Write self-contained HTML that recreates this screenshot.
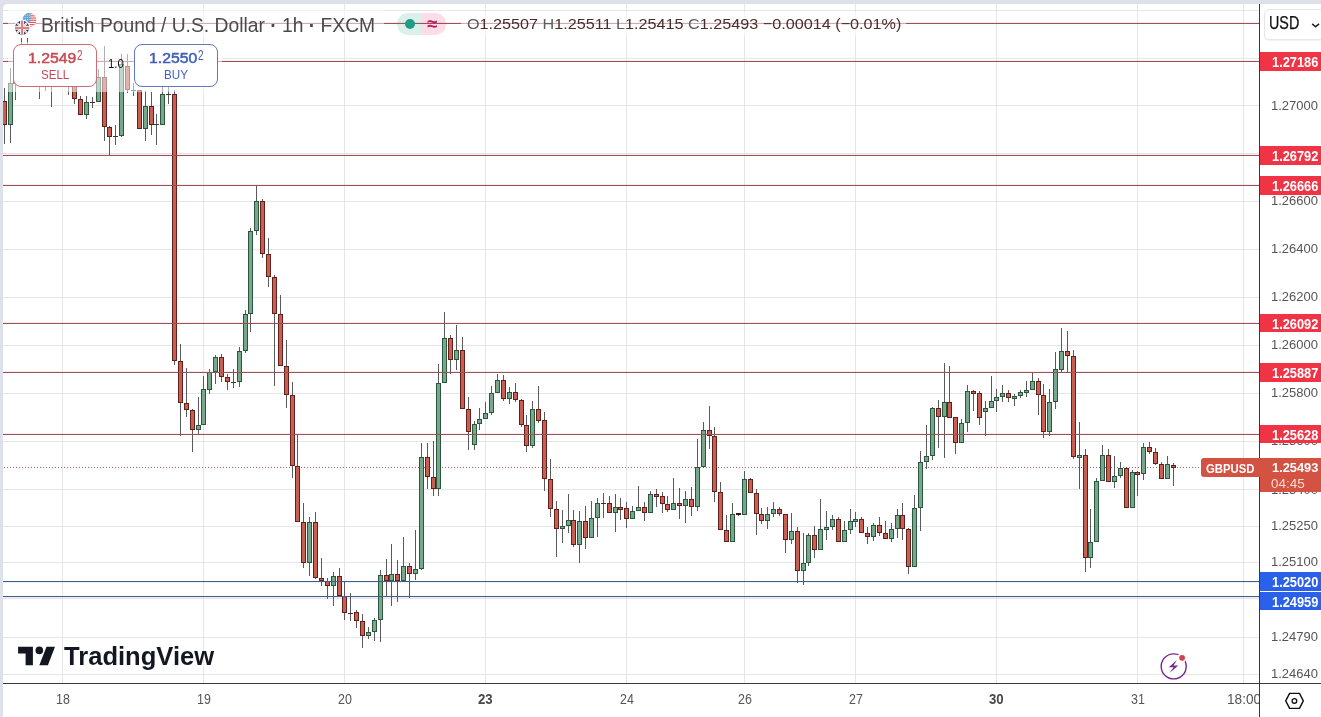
<!DOCTYPE html>
<html lang="en"><head><meta charset="utf-8"><title>GBPUSD chart</title>
<style>
html,body{margin:0;padding:0;}
body{width:1321px;height:717px;overflow:hidden;background:#dfe1ea;font-family:"Liberation Sans",sans-serif;position:relative;}
#page{position:absolute;left:3px;top:4px;width:1318px;height:713px;background:#fff;border-top-left-radius:4px;}
.chart{position:absolute;left:0;top:0;}
.abs{position:absolute;white-space:nowrap;}
.tag{position:absolute;left:1260px;width:61px;height:18.6px;}
.btn{position:absolute;top:44px;height:43px;width:84px;box-sizing:border-box;border-radius:8px;background:#fff;}
</style></head><body>
<div id="page"></div>

<svg class="chart" width="1321" height="717" viewBox="0 0 1321 717" shape-rendering="crispEdges">
<g fill="#e6e6e9">
<rect x="3" y="10" width="1256" height="1"/>
<rect x="3" y="58" width="1256" height="1"/>
<rect x="3" y="105" width="1256" height="1"/>
<rect x="3" y="153" width="1256" height="1"/>
<rect x="3" y="201" width="1256" height="1"/>
<rect x="3" y="249" width="1256" height="1"/>
<rect x="3" y="297" width="1256" height="1"/>
<rect x="3" y="345" width="1256" height="1"/>
<rect x="3" y="393" width="1256" height="1"/>
<rect x="3" y="441" width="1256" height="1"/>
<rect x="3" y="489" width="1256" height="1"/>
<rect x="3" y="526" width="1256" height="1"/>
<rect x="3" y="562" width="1256" height="1"/>
<rect x="3" y="598" width="1256" height="1"/>
<rect x="3" y="637" width="1256" height="1"/>
<rect x="3" y="674" width="1256" height="1"/>
<rect x="62" y="4" width="1" height="679"/>
<rect x="203" y="4" width="1" height="679"/>
<rect x="344" y="4" width="1" height="679"/>
<rect x="485" y="4" width="1" height="679"/>
<rect x="626" y="4" width="1" height="679"/>
<rect x="744" y="4" width="1" height="679"/>
<rect x="855" y="4" width="1" height="679"/>
<rect x="996" y="4" width="1" height="679"/>
<rect x="1137" y="4" width="1" height="679"/>
<rect x="1243" y="4" width="1" height="679"/>
</g>
<g fill="#a8665c">
<rect x="4" y="467" width="1" height="1"/>
<rect x="7" y="467" width="1" height="1"/>
<rect x="10" y="467" width="1" height="1"/>
<rect x="13" y="467" width="1" height="1"/>
<rect x="16" y="467" width="1" height="1"/>
<rect x="19" y="467" width="1" height="1"/>
<rect x="22" y="467" width="1" height="1"/>
<rect x="25" y="467" width="1" height="1"/>
<rect x="28" y="467" width="1" height="1"/>
<rect x="31" y="467" width="1" height="1"/>
<rect x="34" y="467" width="1" height="1"/>
<rect x="37" y="467" width="1" height="1"/>
<rect x="40" y="467" width="1" height="1"/>
<rect x="43" y="467" width="1" height="1"/>
<rect x="46" y="467" width="1" height="1"/>
<rect x="49" y="467" width="1" height="1"/>
<rect x="52" y="467" width="1" height="1"/>
<rect x="55" y="467" width="1" height="1"/>
<rect x="58" y="467" width="1" height="1"/>
<rect x="61" y="467" width="1" height="1"/>
<rect x="64" y="467" width="1" height="1"/>
<rect x="67" y="467" width="1" height="1"/>
<rect x="70" y="467" width="1" height="1"/>
<rect x="73" y="467" width="1" height="1"/>
<rect x="76" y="467" width="1" height="1"/>
<rect x="79" y="467" width="1" height="1"/>
<rect x="82" y="467" width="1" height="1"/>
<rect x="85" y="467" width="1" height="1"/>
<rect x="88" y="467" width="1" height="1"/>
<rect x="91" y="467" width="1" height="1"/>
<rect x="94" y="467" width="1" height="1"/>
<rect x="97" y="467" width="1" height="1"/>
<rect x="100" y="467" width="1" height="1"/>
<rect x="103" y="467" width="1" height="1"/>
<rect x="106" y="467" width="1" height="1"/>
<rect x="109" y="467" width="1" height="1"/>
<rect x="112" y="467" width="1" height="1"/>
<rect x="115" y="467" width="1" height="1"/>
<rect x="118" y="467" width="1" height="1"/>
<rect x="121" y="467" width="1" height="1"/>
<rect x="124" y="467" width="1" height="1"/>
<rect x="127" y="467" width="1" height="1"/>
<rect x="130" y="467" width="1" height="1"/>
<rect x="133" y="467" width="1" height="1"/>
<rect x="136" y="467" width="1" height="1"/>
<rect x="139" y="467" width="1" height="1"/>
<rect x="142" y="467" width="1" height="1"/>
<rect x="145" y="467" width="1" height="1"/>
<rect x="148" y="467" width="1" height="1"/>
<rect x="151" y="467" width="1" height="1"/>
<rect x="154" y="467" width="1" height="1"/>
<rect x="157" y="467" width="1" height="1"/>
<rect x="160" y="467" width="1" height="1"/>
<rect x="163" y="467" width="1" height="1"/>
<rect x="166" y="467" width="1" height="1"/>
<rect x="169" y="467" width="1" height="1"/>
<rect x="172" y="467" width="1" height="1"/>
<rect x="175" y="467" width="1" height="1"/>
<rect x="178" y="467" width="1" height="1"/>
<rect x="181" y="467" width="1" height="1"/>
<rect x="184" y="467" width="1" height="1"/>
<rect x="187" y="467" width="1" height="1"/>
<rect x="190" y="467" width="1" height="1"/>
<rect x="193" y="467" width="1" height="1"/>
<rect x="196" y="467" width="1" height="1"/>
<rect x="199" y="467" width="1" height="1"/>
<rect x="202" y="467" width="1" height="1"/>
<rect x="205" y="467" width="1" height="1"/>
<rect x="208" y="467" width="1" height="1"/>
<rect x="211" y="467" width="1" height="1"/>
<rect x="214" y="467" width="1" height="1"/>
<rect x="217" y="467" width="1" height="1"/>
<rect x="220" y="467" width="1" height="1"/>
<rect x="223" y="467" width="1" height="1"/>
<rect x="226" y="467" width="1" height="1"/>
<rect x="229" y="467" width="1" height="1"/>
<rect x="232" y="467" width="1" height="1"/>
<rect x="235" y="467" width="1" height="1"/>
<rect x="238" y="467" width="1" height="1"/>
<rect x="241" y="467" width="1" height="1"/>
<rect x="244" y="467" width="1" height="1"/>
<rect x="247" y="467" width="1" height="1"/>
<rect x="250" y="467" width="1" height="1"/>
<rect x="253" y="467" width="1" height="1"/>
<rect x="256" y="467" width="1" height="1"/>
<rect x="259" y="467" width="1" height="1"/>
<rect x="262" y="467" width="1" height="1"/>
<rect x="265" y="467" width="1" height="1"/>
<rect x="268" y="467" width="1" height="1"/>
<rect x="271" y="467" width="1" height="1"/>
<rect x="274" y="467" width="1" height="1"/>
<rect x="277" y="467" width="1" height="1"/>
<rect x="280" y="467" width="1" height="1"/>
<rect x="283" y="467" width="1" height="1"/>
<rect x="286" y="467" width="1" height="1"/>
<rect x="289" y="467" width="1" height="1"/>
<rect x="292" y="467" width="1" height="1"/>
<rect x="295" y="467" width="1" height="1"/>
<rect x="298" y="467" width="1" height="1"/>
<rect x="301" y="467" width="1" height="1"/>
<rect x="304" y="467" width="1" height="1"/>
<rect x="307" y="467" width="1" height="1"/>
<rect x="310" y="467" width="1" height="1"/>
<rect x="313" y="467" width="1" height="1"/>
<rect x="316" y="467" width="1" height="1"/>
<rect x="319" y="467" width="1" height="1"/>
<rect x="322" y="467" width="1" height="1"/>
<rect x="325" y="467" width="1" height="1"/>
<rect x="328" y="467" width="1" height="1"/>
<rect x="331" y="467" width="1" height="1"/>
<rect x="334" y="467" width="1" height="1"/>
<rect x="337" y="467" width="1" height="1"/>
<rect x="340" y="467" width="1" height="1"/>
<rect x="343" y="467" width="1" height="1"/>
<rect x="346" y="467" width="1" height="1"/>
<rect x="349" y="467" width="1" height="1"/>
<rect x="352" y="467" width="1" height="1"/>
<rect x="355" y="467" width="1" height="1"/>
<rect x="358" y="467" width="1" height="1"/>
<rect x="361" y="467" width="1" height="1"/>
<rect x="364" y="467" width="1" height="1"/>
<rect x="367" y="467" width="1" height="1"/>
<rect x="370" y="467" width="1" height="1"/>
<rect x="373" y="467" width="1" height="1"/>
<rect x="376" y="467" width="1" height="1"/>
<rect x="379" y="467" width="1" height="1"/>
<rect x="382" y="467" width="1" height="1"/>
<rect x="385" y="467" width="1" height="1"/>
<rect x="388" y="467" width="1" height="1"/>
<rect x="391" y="467" width="1" height="1"/>
<rect x="394" y="467" width="1" height="1"/>
<rect x="397" y="467" width="1" height="1"/>
<rect x="400" y="467" width="1" height="1"/>
<rect x="403" y="467" width="1" height="1"/>
<rect x="406" y="467" width="1" height="1"/>
<rect x="409" y="467" width="1" height="1"/>
<rect x="412" y="467" width="1" height="1"/>
<rect x="415" y="467" width="1" height="1"/>
<rect x="418" y="467" width="1" height="1"/>
<rect x="421" y="467" width="1" height="1"/>
<rect x="424" y="467" width="1" height="1"/>
<rect x="427" y="467" width="1" height="1"/>
<rect x="430" y="467" width="1" height="1"/>
<rect x="433" y="467" width="1" height="1"/>
<rect x="436" y="467" width="1" height="1"/>
<rect x="439" y="467" width="1" height="1"/>
<rect x="442" y="467" width="1" height="1"/>
<rect x="445" y="467" width="1" height="1"/>
<rect x="448" y="467" width="1" height="1"/>
<rect x="451" y="467" width="1" height="1"/>
<rect x="454" y="467" width="1" height="1"/>
<rect x="457" y="467" width="1" height="1"/>
<rect x="460" y="467" width="1" height="1"/>
<rect x="463" y="467" width="1" height="1"/>
<rect x="466" y="467" width="1" height="1"/>
<rect x="469" y="467" width="1" height="1"/>
<rect x="472" y="467" width="1" height="1"/>
<rect x="475" y="467" width="1" height="1"/>
<rect x="478" y="467" width="1" height="1"/>
<rect x="481" y="467" width="1" height="1"/>
<rect x="484" y="467" width="1" height="1"/>
<rect x="487" y="467" width="1" height="1"/>
<rect x="490" y="467" width="1" height="1"/>
<rect x="493" y="467" width="1" height="1"/>
<rect x="496" y="467" width="1" height="1"/>
<rect x="499" y="467" width="1" height="1"/>
<rect x="502" y="467" width="1" height="1"/>
<rect x="505" y="467" width="1" height="1"/>
<rect x="508" y="467" width="1" height="1"/>
<rect x="511" y="467" width="1" height="1"/>
<rect x="514" y="467" width="1" height="1"/>
<rect x="517" y="467" width="1" height="1"/>
<rect x="520" y="467" width="1" height="1"/>
<rect x="523" y="467" width="1" height="1"/>
<rect x="526" y="467" width="1" height="1"/>
<rect x="529" y="467" width="1" height="1"/>
<rect x="532" y="467" width="1" height="1"/>
<rect x="535" y="467" width="1" height="1"/>
<rect x="538" y="467" width="1" height="1"/>
<rect x="541" y="467" width="1" height="1"/>
<rect x="544" y="467" width="1" height="1"/>
<rect x="547" y="467" width="1" height="1"/>
<rect x="550" y="467" width="1" height="1"/>
<rect x="553" y="467" width="1" height="1"/>
<rect x="556" y="467" width="1" height="1"/>
<rect x="559" y="467" width="1" height="1"/>
<rect x="562" y="467" width="1" height="1"/>
<rect x="565" y="467" width="1" height="1"/>
<rect x="568" y="467" width="1" height="1"/>
<rect x="571" y="467" width="1" height="1"/>
<rect x="574" y="467" width="1" height="1"/>
<rect x="577" y="467" width="1" height="1"/>
<rect x="580" y="467" width="1" height="1"/>
<rect x="583" y="467" width="1" height="1"/>
<rect x="586" y="467" width="1" height="1"/>
<rect x="589" y="467" width="1" height="1"/>
<rect x="592" y="467" width="1" height="1"/>
<rect x="595" y="467" width="1" height="1"/>
<rect x="598" y="467" width="1" height="1"/>
<rect x="601" y="467" width="1" height="1"/>
<rect x="604" y="467" width="1" height="1"/>
<rect x="607" y="467" width="1" height="1"/>
<rect x="610" y="467" width="1" height="1"/>
<rect x="613" y="467" width="1" height="1"/>
<rect x="616" y="467" width="1" height="1"/>
<rect x="619" y="467" width="1" height="1"/>
<rect x="622" y="467" width="1" height="1"/>
<rect x="625" y="467" width="1" height="1"/>
<rect x="628" y="467" width="1" height="1"/>
<rect x="631" y="467" width="1" height="1"/>
<rect x="634" y="467" width="1" height="1"/>
<rect x="637" y="467" width="1" height="1"/>
<rect x="640" y="467" width="1" height="1"/>
<rect x="643" y="467" width="1" height="1"/>
<rect x="646" y="467" width="1" height="1"/>
<rect x="649" y="467" width="1" height="1"/>
<rect x="652" y="467" width="1" height="1"/>
<rect x="655" y="467" width="1" height="1"/>
<rect x="658" y="467" width="1" height="1"/>
<rect x="661" y="467" width="1" height="1"/>
<rect x="664" y="467" width="1" height="1"/>
<rect x="667" y="467" width="1" height="1"/>
<rect x="670" y="467" width="1" height="1"/>
<rect x="673" y="467" width="1" height="1"/>
<rect x="676" y="467" width="1" height="1"/>
<rect x="679" y="467" width="1" height="1"/>
<rect x="682" y="467" width="1" height="1"/>
<rect x="685" y="467" width="1" height="1"/>
<rect x="688" y="467" width="1" height="1"/>
<rect x="691" y="467" width="1" height="1"/>
<rect x="694" y="467" width="1" height="1"/>
<rect x="697" y="467" width="1" height="1"/>
<rect x="700" y="467" width="1" height="1"/>
<rect x="703" y="467" width="1" height="1"/>
<rect x="706" y="467" width="1" height="1"/>
<rect x="709" y="467" width="1" height="1"/>
<rect x="712" y="467" width="1" height="1"/>
<rect x="715" y="467" width="1" height="1"/>
<rect x="718" y="467" width="1" height="1"/>
<rect x="721" y="467" width="1" height="1"/>
<rect x="724" y="467" width="1" height="1"/>
<rect x="727" y="467" width="1" height="1"/>
<rect x="730" y="467" width="1" height="1"/>
<rect x="733" y="467" width="1" height="1"/>
<rect x="736" y="467" width="1" height="1"/>
<rect x="739" y="467" width="1" height="1"/>
<rect x="742" y="467" width="1" height="1"/>
<rect x="745" y="467" width="1" height="1"/>
<rect x="748" y="467" width="1" height="1"/>
<rect x="751" y="467" width="1" height="1"/>
<rect x="754" y="467" width="1" height="1"/>
<rect x="757" y="467" width="1" height="1"/>
<rect x="760" y="467" width="1" height="1"/>
<rect x="763" y="467" width="1" height="1"/>
<rect x="766" y="467" width="1" height="1"/>
<rect x="769" y="467" width="1" height="1"/>
<rect x="772" y="467" width="1" height="1"/>
<rect x="775" y="467" width="1" height="1"/>
<rect x="778" y="467" width="1" height="1"/>
<rect x="781" y="467" width="1" height="1"/>
<rect x="784" y="467" width="1" height="1"/>
<rect x="787" y="467" width="1" height="1"/>
<rect x="790" y="467" width="1" height="1"/>
<rect x="793" y="467" width="1" height="1"/>
<rect x="796" y="467" width="1" height="1"/>
<rect x="799" y="467" width="1" height="1"/>
<rect x="802" y="467" width="1" height="1"/>
<rect x="805" y="467" width="1" height="1"/>
<rect x="808" y="467" width="1" height="1"/>
<rect x="811" y="467" width="1" height="1"/>
<rect x="814" y="467" width="1" height="1"/>
<rect x="817" y="467" width="1" height="1"/>
<rect x="820" y="467" width="1" height="1"/>
<rect x="823" y="467" width="1" height="1"/>
<rect x="826" y="467" width="1" height="1"/>
<rect x="829" y="467" width="1" height="1"/>
<rect x="832" y="467" width="1" height="1"/>
<rect x="835" y="467" width="1" height="1"/>
<rect x="838" y="467" width="1" height="1"/>
<rect x="841" y="467" width="1" height="1"/>
<rect x="844" y="467" width="1" height="1"/>
<rect x="847" y="467" width="1" height="1"/>
<rect x="850" y="467" width="1" height="1"/>
<rect x="853" y="467" width="1" height="1"/>
<rect x="856" y="467" width="1" height="1"/>
<rect x="859" y="467" width="1" height="1"/>
<rect x="862" y="467" width="1" height="1"/>
<rect x="865" y="467" width="1" height="1"/>
<rect x="868" y="467" width="1" height="1"/>
<rect x="871" y="467" width="1" height="1"/>
<rect x="874" y="467" width="1" height="1"/>
<rect x="877" y="467" width="1" height="1"/>
<rect x="880" y="467" width="1" height="1"/>
<rect x="883" y="467" width="1" height="1"/>
<rect x="886" y="467" width="1" height="1"/>
<rect x="889" y="467" width="1" height="1"/>
<rect x="892" y="467" width="1" height="1"/>
<rect x="895" y="467" width="1" height="1"/>
<rect x="898" y="467" width="1" height="1"/>
<rect x="901" y="467" width="1" height="1"/>
<rect x="904" y="467" width="1" height="1"/>
<rect x="907" y="467" width="1" height="1"/>
<rect x="910" y="467" width="1" height="1"/>
<rect x="913" y="467" width="1" height="1"/>
<rect x="916" y="467" width="1" height="1"/>
<rect x="919" y="467" width="1" height="1"/>
<rect x="922" y="467" width="1" height="1"/>
<rect x="925" y="467" width="1" height="1"/>
<rect x="928" y="467" width="1" height="1"/>
<rect x="931" y="467" width="1" height="1"/>
<rect x="934" y="467" width="1" height="1"/>
<rect x="937" y="467" width="1" height="1"/>
<rect x="940" y="467" width="1" height="1"/>
<rect x="943" y="467" width="1" height="1"/>
<rect x="946" y="467" width="1" height="1"/>
<rect x="949" y="467" width="1" height="1"/>
<rect x="952" y="467" width="1" height="1"/>
<rect x="955" y="467" width="1" height="1"/>
<rect x="958" y="467" width="1" height="1"/>
<rect x="961" y="467" width="1" height="1"/>
<rect x="964" y="467" width="1" height="1"/>
<rect x="967" y="467" width="1" height="1"/>
<rect x="970" y="467" width="1" height="1"/>
<rect x="973" y="467" width="1" height="1"/>
<rect x="976" y="467" width="1" height="1"/>
<rect x="979" y="467" width="1" height="1"/>
<rect x="982" y="467" width="1" height="1"/>
<rect x="985" y="467" width="1" height="1"/>
<rect x="988" y="467" width="1" height="1"/>
<rect x="991" y="467" width="1" height="1"/>
<rect x="994" y="467" width="1" height="1"/>
<rect x="997" y="467" width="1" height="1"/>
<rect x="1000" y="467" width="1" height="1"/>
<rect x="1003" y="467" width="1" height="1"/>
<rect x="1006" y="467" width="1" height="1"/>
<rect x="1009" y="467" width="1" height="1"/>
<rect x="1012" y="467" width="1" height="1"/>
<rect x="1015" y="467" width="1" height="1"/>
<rect x="1018" y="467" width="1" height="1"/>
<rect x="1021" y="467" width="1" height="1"/>
<rect x="1024" y="467" width="1" height="1"/>
<rect x="1027" y="467" width="1" height="1"/>
<rect x="1030" y="467" width="1" height="1"/>
<rect x="1033" y="467" width="1" height="1"/>
<rect x="1036" y="467" width="1" height="1"/>
<rect x="1039" y="467" width="1" height="1"/>
<rect x="1042" y="467" width="1" height="1"/>
<rect x="1045" y="467" width="1" height="1"/>
<rect x="1048" y="467" width="1" height="1"/>
<rect x="1051" y="467" width="1" height="1"/>
<rect x="1054" y="467" width="1" height="1"/>
<rect x="1057" y="467" width="1" height="1"/>
<rect x="1060" y="467" width="1" height="1"/>
<rect x="1063" y="467" width="1" height="1"/>
<rect x="1066" y="467" width="1" height="1"/>
<rect x="1069" y="467" width="1" height="1"/>
<rect x="1072" y="467" width="1" height="1"/>
<rect x="1075" y="467" width="1" height="1"/>
<rect x="1078" y="467" width="1" height="1"/>
<rect x="1081" y="467" width="1" height="1"/>
<rect x="1084" y="467" width="1" height="1"/>
<rect x="1087" y="467" width="1" height="1"/>
<rect x="1090" y="467" width="1" height="1"/>
<rect x="1093" y="467" width="1" height="1"/>
<rect x="1096" y="467" width="1" height="1"/>
<rect x="1099" y="467" width="1" height="1"/>
<rect x="1102" y="467" width="1" height="1"/>
<rect x="1105" y="467" width="1" height="1"/>
<rect x="1108" y="467" width="1" height="1"/>
<rect x="1111" y="467" width="1" height="1"/>
<rect x="1114" y="467" width="1" height="1"/>
<rect x="1117" y="467" width="1" height="1"/>
<rect x="1120" y="467" width="1" height="1"/>
<rect x="1123" y="467" width="1" height="1"/>
<rect x="1126" y="467" width="1" height="1"/>
<rect x="1129" y="467" width="1" height="1"/>
<rect x="1132" y="467" width="1" height="1"/>
<rect x="1135" y="467" width="1" height="1"/>
<rect x="1138" y="467" width="1" height="1"/>
<rect x="1141" y="467" width="1" height="1"/>
<rect x="1144" y="467" width="1" height="1"/>
<rect x="1147" y="467" width="1" height="1"/>
<rect x="1150" y="467" width="1" height="1"/>
<rect x="1153" y="467" width="1" height="1"/>
<rect x="1156" y="467" width="1" height="1"/>
<rect x="1159" y="467" width="1" height="1"/>
<rect x="1162" y="467" width="1" height="1"/>
<rect x="1165" y="467" width="1" height="1"/>
<rect x="1168" y="467" width="1" height="1"/>
<rect x="1171" y="467" width="1" height="1"/>
<rect x="1174" y="467" width="1" height="1"/>
<rect x="1177" y="467" width="1" height="1"/>
<rect x="1180" y="467" width="1" height="1"/>
<rect x="1183" y="467" width="1" height="1"/>
<rect x="1186" y="467" width="1" height="1"/>
<rect x="1189" y="467" width="1" height="1"/>
<rect x="1192" y="467" width="1" height="1"/>
<rect x="1195" y="467" width="1" height="1"/>
<rect x="1198" y="467" width="1" height="1"/>
</g>
<g fill="#5a5a5a"><rect x="4" y="88" width="1" height="56"/><rect x="10" y="68" width="1" height="75"/><rect x="15" y="66" width="1" height="34"/><rect x="21" y="38" width="1" height="48"/><rect x="27" y="38" width="1" height="42"/><rect x="33" y="50" width="1" height="34"/><rect x="39" y="58" width="1" height="41"/><rect x="45" y="60" width="1" height="31"/><rect x="51" y="62" width="1" height="45"/><rect x="57" y="64" width="1" height="21"/><rect x="62" y="62" width="1" height="24"/><rect x="68" y="66" width="1" height="29"/><rect x="74" y="72" width="1" height="32"/><rect x="80" y="96" width="1" height="19"/><rect x="86" y="96" width="1" height="23"/><rect x="92" y="97" width="1" height="11"/><rect x="98" y="69" width="1" height="33"/><rect x="104" y="46" width="1" height="95"/><rect x="109" y="126" width="1" height="30"/><rect x="115" y="125" width="1" height="20"/><rect x="121" y="54" width="1" height="83"/><rect x="127" y="54" width="1" height="39"/><rect x="133" y="83" width="1" height="13"/><rect x="139" y="90" width="1" height="39"/><rect x="145" y="91" width="1" height="50"/><rect x="151" y="92" width="1" height="43"/><rect x="156" y="114" width="1" height="31"/><rect x="162" y="87" width="1" height="38"/><rect x="168" y="87" width="1" height="17"/><rect x="174" y="90" width="1" height="275"/><rect x="180" y="344" width="1" height="92"/><rect x="186" y="368" width="1" height="49"/><rect x="192" y="409" width="1" height="43"/><rect x="198" y="397" width="1" height="37"/><rect x="203" y="376" width="1" height="49"/><rect x="209" y="369" width="1" height="25"/><rect x="215" y="355" width="1" height="29"/><rect x="221" y="354" width="1" height="28"/><rect x="227" y="374" width="1" height="16"/><rect x="233" y="369" width="1" height="19"/><rect x="239" y="347" width="1" height="40"/><rect x="245" y="310" width="1" height="43"/><rect x="250" y="228" width="1" height="104"/><rect x="256" y="186" width="1" height="49"/><rect x="262" y="199" width="1" height="59"/><rect x="268" y="238" width="1" height="49"/><rect x="274" y="275" width="1" height="111"/><rect x="280" y="295" width="1" height="71"/><rect x="286" y="340" width="1" height="68"/><rect x="292" y="382" width="1" height="96"/><rect x="297" y="434" width="1" height="88"/><rect x="303" y="503" width="1" height="65"/><rect x="309" y="517" width="1" height="59"/><rect x="315" y="512" width="1" height="67"/><rect x="321" y="558" width="1" height="28"/><rect x="327" y="578" width="1" height="21"/><rect x="333" y="572" width="1" height="34"/><rect x="339" y="568" width="1" height="28"/><rect x="344" y="581" width="1" height="39"/><rect x="350" y="593" width="1" height="28"/><rect x="356" y="610" width="1" height="18"/><rect x="362" y="614" width="1" height="34"/><rect x="368" y="627" width="1" height="12"/><rect x="374" y="618" width="1" height="23"/><rect x="380" y="570" width="1" height="72"/><rect x="386" y="559" width="1" height="37"/><rect x="391" y="544" width="1" height="62"/><rect x="397" y="560" width="1" height="42"/><rect x="403" y="537" width="1" height="44"/><rect x="409" y="563" width="1" height="35"/><rect x="415" y="530" width="1" height="50"/><rect x="421" y="443" width="1" height="127"/><rect x="427" y="443" width="1" height="46"/><rect x="433" y="441" width="1" height="55"/><rect x="438" y="364" width="1" height="132"/><rect x="444" y="312" width="1" height="71"/><rect x="450" y="335" width="1" height="39"/><rect x="456" y="325" width="1" height="45"/><rect x="462" y="337" width="1" height="72"/><rect x="468" y="397" width="1" height="53"/><rect x="474" y="421" width="1" height="29"/><rect x="479" y="408" width="1" height="22"/><rect x="485" y="402" width="1" height="17"/><rect x="491" y="386" width="1" height="29"/><rect x="497" y="374" width="1" height="19"/><rect x="503" y="375" width="1" height="26"/><rect x="509" y="387" width="1" height="17"/><rect x="515" y="383" width="1" height="19"/><rect x="521" y="399" width="1" height="28"/><rect x="526" y="415" width="1" height="37"/><rect x="532" y="401" width="1" height="47"/><rect x="538" y="386" width="1" height="37"/><rect x="544" y="412" width="1" height="79"/><rect x="550" y="459" width="1" height="58"/><rect x="556" y="501" width="1" height="56"/><rect x="562" y="510" width="1" height="33"/><rect x="568" y="494" width="1" height="39"/><rect x="573" y="510" width="1" height="37"/><rect x="579" y="511" width="1" height="52"/><rect x="585" y="506" width="1" height="43"/><rect x="591" y="501" width="1" height="37"/><rect x="597" y="498" width="1" height="39"/><rect x="603" y="493" width="1" height="25"/><rect x="609" y="496" width="1" height="17"/><rect x="615" y="494" width="1" height="38"/><rect x="620" y="498" width="1" height="22"/><rect x="626" y="502" width="1" height="26"/><rect x="632" y="506" width="1" height="13"/><rect x="638" y="486" width="1" height="25"/><rect x="644" y="502" width="1" height="19"/><rect x="650" y="491" width="1" height="22"/><rect x="656" y="489" width="1" height="18"/><rect x="662" y="492" width="1" height="21"/><rect x="667" y="496" width="1" height="16"/><rect x="673" y="478" width="1" height="32"/><rect x="679" y="488" width="1" height="31"/><rect x="685" y="491" width="1" height="32"/><rect x="691" y="487" width="1" height="29"/><rect x="697" y="439" width="1" height="72"/><rect x="703" y="422" width="1" height="46"/><rect x="709" y="406" width="1" height="43"/><rect x="714" y="427" width="1" height="75"/><rect x="720" y="482" width="1" height="48"/><rect x="726" y="515" width="1" height="27"/><rect x="732" y="503" width="1" height="39"/><rect x="738" y="513" width="1" height="3"/><rect x="744" y="471" width="1" height="44"/><rect x="750" y="478" width="1" height="15"/><rect x="756" y="489" width="1" height="46"/><rect x="761" y="508" width="1" height="16"/><rect x="767" y="507" width="1" height="22"/><rect x="773" y="502" width="1" height="15"/><rect x="779" y="507" width="1" height="9"/><rect x="785" y="514" width="1" height="39"/><rect x="791" y="513" width="1" height="31"/><rect x="797" y="527" width="1" height="56"/><rect x="803" y="533" width="1" height="52"/><rect x="808" y="533" width="1" height="33"/><rect x="814" y="526" width="1" height="32"/><rect x="820" y="499" width="1" height="51"/><rect x="826" y="511" width="1" height="29"/><rect x="832" y="515" width="1" height="15"/><rect x="838" y="517" width="1" height="25"/><rect x="844" y="521" width="1" height="21"/><rect x="850" y="509" width="1" height="25"/><rect x="855" y="512" width="1" height="15"/><rect x="861" y="517" width="1" height="16"/><rect x="867" y="527" width="1" height="17"/><rect x="873" y="523" width="1" height="18"/><rect x="879" y="517" width="1" height="19"/><rect x="885" y="521" width="1" height="18"/><rect x="891" y="523" width="1" height="19"/><rect x="897" y="509" width="1" height="29"/><rect x="902" y="503" width="1" height="37"/><rect x="908" y="528" width="1" height="46"/><rect x="914" y="495" width="1" height="72"/><rect x="920" y="451" width="1" height="80"/><rect x="926" y="425" width="1" height="44"/><rect x="932" y="407" width="1" height="53"/><rect x="938" y="400" width="1" height="48"/><rect x="944" y="363" width="1" height="95"/><rect x="949" y="366" width="1" height="52"/><rect x="955" y="417" width="1" height="37"/><rect x="961" y="419" width="1" height="24"/><rect x="967" y="385" width="1" height="47"/><rect x="973" y="390" width="1" height="21"/><rect x="979" y="391" width="1" height="34"/><rect x="985" y="401" width="1" height="35"/><rect x="991" y="376" width="1" height="32"/><rect x="996" y="389" width="1" height="23"/><rect x="1002" y="385" width="1" height="17"/><rect x="1008" y="390" width="1" height="12"/><rect x="1014" y="394" width="1" height="12"/><rect x="1020" y="390" width="1" height="8"/><rect x="1026" y="381" width="1" height="16"/><rect x="1032" y="373" width="1" height="17"/><rect x="1038" y="378" width="1" height="37"/><rect x="1043" y="384" width="1" height="54"/><rect x="1049" y="389" width="1" height="47"/><rect x="1055" y="352" width="1" height="57"/><rect x="1061" y="328" width="1" height="44"/><rect x="1067" y="331" width="1" height="41"/><rect x="1073" y="350" width="1" height="109"/><rect x="1079" y="422" width="1" height="67"/><rect x="1085" y="449" width="1" height="123"/><rect x="1090" y="509" width="1" height="59"/><rect x="1096" y="478" width="1" height="64"/><rect x="1102" y="445" width="1" height="36"/><rect x="1108" y="449" width="1" height="33"/><rect x="1114" y="456" width="1" height="32"/><rect x="1120" y="462" width="1" height="16"/><rect x="1126" y="467" width="1" height="41"/><rect x="1132" y="470" width="1" height="38"/><rect x="1137" y="471" width="1" height="25"/><rect x="1143" y="443" width="1" height="37"/><rect x="1149" y="442" width="1" height="12"/><rect x="1155" y="448" width="1" height="17"/><rect x="1161" y="462" width="1" height="17"/><rect x="1167" y="456" width="1" height="23"/><rect x="1173" y="463" width="1" height="23"/></g>
<g><rect x="2" y="101" width="5" height="24" fill="#63201a"/><rect x="3" y="102" width="3" height="22" fill="#c75f52"/><rect x="8" y="83" width="5" height="42" fill="#2a573e"/><rect x="9" y="84" width="3" height="40" fill="#78a88c"/><rect x="13" y="78" width="5" height="6" fill="#63201a"/><rect x="14" y="79" width="3" height="4" fill="#c75f52"/><rect x="19" y="60" width="5" height="11" fill="#2a573e"/><rect x="20" y="61" width="3" height="9" fill="#78a88c"/><rect x="25" y="55" width="5" height="8" fill="#2a573e"/><rect x="26" y="56" width="3" height="6" fill="#78a88c"/><rect x="31" y="58" width="5" height="9" fill="#63201a"/><rect x="32" y="59" width="3" height="7" fill="#c75f52"/><rect x="37" y="66" width="5" height="7" fill="#63201a"/><rect x="38" y="67" width="3" height="5" fill="#c75f52"/><rect x="43" y="68" width="5" height="5" fill="#2a573e"/><rect x="44" y="69" width="3" height="3" fill="#78a88c"/><rect x="49" y="68" width="5" height="9" fill="#63201a"/><rect x="50" y="69" width="3" height="7" fill="#c75f52"/><rect x="55" y="70" width="5" height="7" fill="#2a573e"/><rect x="56" y="71" width="3" height="5" fill="#78a88c"/><rect x="60" y="70" width="5" height="5" fill="#63201a"/><rect x="61" y="71" width="3" height="3" fill="#c75f52"/><rect x="66" y="74" width="5" height="7" fill="#63201a"/><rect x="67" y="75" width="3" height="5" fill="#c75f52"/><rect x="72" y="80" width="5" height="19" fill="#63201a"/><rect x="73" y="81" width="3" height="17" fill="#c75f52"/><rect x="78" y="99" width="5" height="16" fill="#63201a"/><rect x="79" y="100" width="3" height="14" fill="#c75f52"/><rect x="84" y="102" width="5" height="13" fill="#2a573e"/><rect x="85" y="103" width="3" height="11" fill="#78a88c"/><rect x="90" y="102" width="5" height="1" fill="#333"/><rect x="96" y="77" width="5" height="25" fill="#2a573e"/><rect x="97" y="78" width="3" height="23" fill="#78a88c"/><rect x="102" y="77" width="5" height="50" fill="#63201a"/><rect x="103" y="78" width="3" height="48" fill="#c75f52"/><rect x="107" y="127" width="5" height="10" fill="#63201a"/><rect x="108" y="128" width="3" height="8" fill="#c75f52"/><rect x="113" y="136" width="5" height="1" fill="#333"/><rect x="119" y="64" width="5" height="72" fill="#2a573e"/><rect x="120" y="65" width="3" height="70" fill="#78a88c"/><rect x="125" y="66" width="5" height="24" fill="#63201a"/><rect x="126" y="67" width="3" height="22" fill="#c75f52"/><rect x="131" y="90" width="5" height="1" fill="#333"/><rect x="137" y="90" width="5" height="39" fill="#63201a"/><rect x="138" y="91" width="3" height="37" fill="#c75f52"/><rect x="143" y="106" width="5" height="23" fill="#2a573e"/><rect x="144" y="107" width="3" height="21" fill="#78a88c"/><rect x="149" y="106" width="5" height="19" fill="#63201a"/><rect x="150" y="107" width="3" height="17" fill="#c75f52"/><rect x="154" y="124" width="5" height="1" fill="#3c3c3c"/><rect x="160" y="94" width="5" height="31" fill="#2a573e"/><rect x="161" y="95" width="3" height="29" fill="#78a88c"/><rect x="166" y="94" width="5" height="1" fill="#3c3c3c"/><rect x="172" y="94" width="5" height="267" fill="#63201a"/><rect x="173" y="95" width="3" height="265" fill="#c75f52"/><rect x="178" y="361" width="5" height="42" fill="#63201a"/><rect x="179" y="362" width="3" height="40" fill="#c75f52"/><rect x="184" y="403" width="5" height="7" fill="#63201a"/><rect x="185" y="404" width="3" height="5" fill="#c75f52"/><rect x="190" y="410" width="5" height="20" fill="#63201a"/><rect x="191" y="411" width="3" height="18" fill="#c75f52"/><rect x="196" y="425" width="5" height="5" fill="#2a573e"/><rect x="197" y="426" width="3" height="3" fill="#78a88c"/><rect x="201" y="389" width="5" height="36" fill="#2a573e"/><rect x="202" y="390" width="3" height="34" fill="#78a88c"/><rect x="207" y="372" width="5" height="18" fill="#2a573e"/><rect x="208" y="373" width="3" height="16" fill="#78a88c"/><rect x="213" y="357" width="5" height="15" fill="#2a573e"/><rect x="214" y="358" width="3" height="13" fill="#78a88c"/><rect x="219" y="357" width="5" height="20" fill="#63201a"/><rect x="220" y="358" width="3" height="18" fill="#c75f52"/><rect x="225" y="377" width="5" height="5" fill="#63201a"/><rect x="226" y="378" width="3" height="3" fill="#c75f52"/><rect x="231" y="382" width="5" height="1" fill="#333"/><rect x="237" y="351" width="5" height="31" fill="#2a573e"/><rect x="238" y="352" width="3" height="29" fill="#78a88c"/><rect x="243" y="314" width="5" height="37" fill="#2a573e"/><rect x="244" y="315" width="3" height="35" fill="#78a88c"/><rect x="248" y="231" width="5" height="83" fill="#2a573e"/><rect x="249" y="232" width="3" height="81" fill="#78a88c"/><rect x="254" y="201" width="5" height="30" fill="#2a573e"/><rect x="255" y="202" width="3" height="28" fill="#78a88c"/><rect x="260" y="201" width="5" height="53" fill="#63201a"/><rect x="261" y="202" width="3" height="51" fill="#c75f52"/><rect x="266" y="254" width="5" height="23" fill="#63201a"/><rect x="267" y="255" width="3" height="21" fill="#c75f52"/><rect x="272" y="277" width="5" height="37" fill="#63201a"/><rect x="273" y="278" width="3" height="35" fill="#c75f52"/><rect x="278" y="314" width="5" height="52" fill="#63201a"/><rect x="279" y="315" width="3" height="50" fill="#c75f52"/><rect x="284" y="366" width="5" height="29" fill="#63201a"/><rect x="285" y="367" width="3" height="27" fill="#c75f52"/><rect x="290" y="395" width="5" height="71" fill="#63201a"/><rect x="291" y="396" width="3" height="69" fill="#c75f52"/><rect x="295" y="466" width="5" height="56" fill="#63201a"/><rect x="296" y="467" width="3" height="54" fill="#c75f52"/><rect x="301" y="522" width="5" height="41" fill="#63201a"/><rect x="302" y="523" width="3" height="39" fill="#c75f52"/><rect x="307" y="522" width="5" height="41" fill="#2a573e"/><rect x="308" y="523" width="3" height="39" fill="#78a88c"/><rect x="313" y="522" width="5" height="56" fill="#63201a"/><rect x="314" y="523" width="3" height="54" fill="#c75f52"/><rect x="319" y="578" width="5" height="3" fill="#63201a"/><rect x="320" y="579" width="3" height="1" fill="#c75f52"/><rect x="325" y="581" width="5" height="5" fill="#63201a"/><rect x="326" y="582" width="3" height="3" fill="#c75f52"/><rect x="331" y="576" width="5" height="10" fill="#2a573e"/><rect x="332" y="577" width="3" height="8" fill="#78a88c"/><rect x="337" y="576" width="5" height="20" fill="#63201a"/><rect x="338" y="577" width="3" height="18" fill="#c75f52"/><rect x="342" y="596" width="5" height="17" fill="#63201a"/><rect x="343" y="597" width="3" height="15" fill="#c75f52"/><rect x="348" y="613" width="5" height="1" fill="#333"/><rect x="354" y="612" width="5" height="9" fill="#63201a"/><rect x="355" y="613" width="3" height="7" fill="#c75f52"/><rect x="360" y="621" width="5" height="15" fill="#63201a"/><rect x="361" y="622" width="3" height="13" fill="#c75f52"/><rect x="366" y="632" width="5" height="4" fill="#2a573e"/><rect x="367" y="633" width="3" height="2" fill="#78a88c"/><rect x="372" y="620" width="5" height="12" fill="#2a573e"/><rect x="373" y="621" width="3" height="10" fill="#78a88c"/><rect x="378" y="575" width="5" height="45" fill="#2a573e"/><rect x="379" y="576" width="3" height="43" fill="#78a88c"/><rect x="384" y="575" width="5" height="6" fill="#63201a"/><rect x="385" y="576" width="3" height="4" fill="#c75f52"/><rect x="389" y="574" width="5" height="7" fill="#2a573e"/><rect x="390" y="575" width="3" height="5" fill="#78a88c"/><rect x="395" y="574" width="5" height="7" fill="#63201a"/><rect x="396" y="575" width="3" height="5" fill="#c75f52"/><rect x="401" y="566" width="5" height="15" fill="#2a573e"/><rect x="402" y="567" width="3" height="13" fill="#78a88c"/><rect x="407" y="566" width="5" height="8" fill="#63201a"/><rect x="408" y="567" width="3" height="6" fill="#c75f52"/><rect x="413" y="569" width="5" height="5" fill="#2a573e"/><rect x="414" y="570" width="3" height="3" fill="#78a88c"/><rect x="419" y="457" width="5" height="112" fill="#2a573e"/><rect x="420" y="458" width="3" height="110" fill="#78a88c"/><rect x="425" y="457" width="5" height="20" fill="#63201a"/><rect x="426" y="458" width="3" height="18" fill="#c75f52"/><rect x="431" y="477" width="5" height="12" fill="#63201a"/><rect x="432" y="478" width="3" height="10" fill="#c75f52"/><rect x="436" y="383" width="5" height="106" fill="#2a573e"/><rect x="437" y="384" width="3" height="104" fill="#78a88c"/><rect x="442" y="338" width="5" height="45" fill="#2a573e"/><rect x="443" y="339" width="3" height="43" fill="#78a88c"/><rect x="448" y="338" width="5" height="22" fill="#63201a"/><rect x="449" y="339" width="3" height="20" fill="#c75f52"/><rect x="454" y="350" width="5" height="10" fill="#2a573e"/><rect x="455" y="351" width="3" height="8" fill="#78a88c"/><rect x="460" y="350" width="5" height="59" fill="#63201a"/><rect x="461" y="351" width="3" height="57" fill="#c75f52"/><rect x="466" y="409" width="5" height="23" fill="#63201a"/><rect x="467" y="410" width="3" height="21" fill="#c75f52"/><rect x="472" y="424" width="5" height="21" fill="#2a573e"/><rect x="473" y="425" width="3" height="19" fill="#78a88c"/><rect x="477" y="419" width="5" height="5" fill="#2a573e"/><rect x="478" y="420" width="3" height="3" fill="#78a88c"/><rect x="483" y="413" width="5" height="6" fill="#2a573e"/><rect x="484" y="414" width="3" height="4" fill="#78a88c"/><rect x="489" y="393" width="5" height="20" fill="#2a573e"/><rect x="490" y="394" width="3" height="18" fill="#78a88c"/><rect x="495" y="380" width="5" height="13" fill="#2a573e"/><rect x="496" y="381" width="3" height="11" fill="#78a88c"/><rect x="501" y="380" width="5" height="19" fill="#63201a"/><rect x="502" y="381" width="3" height="17" fill="#c75f52"/><rect x="507" y="392" width="5" height="7" fill="#2a573e"/><rect x="508" y="393" width="3" height="5" fill="#78a88c"/><rect x="513" y="392" width="5" height="8" fill="#63201a"/><rect x="514" y="393" width="3" height="6" fill="#c75f52"/><rect x="519" y="400" width="5" height="25" fill="#63201a"/><rect x="520" y="401" width="3" height="23" fill="#c75f52"/><rect x="524" y="425" width="5" height="21" fill="#63201a"/><rect x="525" y="426" width="3" height="19" fill="#c75f52"/><rect x="530" y="409" width="5" height="37" fill="#2a573e"/><rect x="531" y="410" width="3" height="35" fill="#78a88c"/><rect x="536" y="409" width="5" height="12" fill="#63201a"/><rect x="537" y="410" width="3" height="10" fill="#c75f52"/><rect x="542" y="420" width="5" height="59" fill="#63201a"/><rect x="543" y="421" width="3" height="57" fill="#c75f52"/><rect x="548" y="479" width="5" height="30" fill="#63201a"/><rect x="549" y="480" width="3" height="28" fill="#c75f52"/><rect x="554" y="509" width="5" height="20" fill="#63201a"/><rect x="555" y="510" width="3" height="18" fill="#c75f52"/><rect x="560" y="526" width="5" height="3" fill="#2a573e"/><rect x="561" y="527" width="3" height="1" fill="#78a88c"/><rect x="566" y="520" width="5" height="6" fill="#2a573e"/><rect x="567" y="521" width="3" height="4" fill="#78a88c"/><rect x="571" y="520" width="5" height="25" fill="#63201a"/><rect x="572" y="521" width="3" height="23" fill="#c75f52"/><rect x="577" y="521" width="5" height="24" fill="#2a573e"/><rect x="578" y="522" width="3" height="22" fill="#78a88c"/><rect x="583" y="521" width="5" height="17" fill="#63201a"/><rect x="584" y="522" width="3" height="15" fill="#c75f52"/><rect x="589" y="518" width="5" height="20" fill="#2a573e"/><rect x="590" y="519" width="3" height="18" fill="#78a88c"/><rect x="595" y="503" width="5" height="15" fill="#2a573e"/><rect x="596" y="504" width="3" height="13" fill="#78a88c"/><rect x="601" y="503" width="5" height="1" fill="#333"/><rect x="607" y="503" width="5" height="10" fill="#63201a"/><rect x="608" y="504" width="3" height="8" fill="#c75f52"/><rect x="613" y="507" width="5" height="6" fill="#2a573e"/><rect x="614" y="508" width="3" height="4" fill="#78a88c"/><rect x="618" y="507" width="5" height="3" fill="#63201a"/><rect x="619" y="508" width="3" height="1" fill="#c75f52"/><rect x="624" y="508" width="5" height="11" fill="#63201a"/><rect x="625" y="509" width="3" height="9" fill="#c75f52"/><rect x="630" y="511" width="5" height="8" fill="#2a573e"/><rect x="631" y="512" width="3" height="6" fill="#78a88c"/><rect x="636" y="507" width="5" height="4" fill="#2a573e"/><rect x="637" y="508" width="3" height="2" fill="#78a88c"/><rect x="642" y="507" width="5" height="6" fill="#63201a"/><rect x="643" y="508" width="3" height="4" fill="#c75f52"/><rect x="648" y="494" width="5" height="19" fill="#2a573e"/><rect x="649" y="495" width="3" height="17" fill="#78a88c"/><rect x="654" y="494" width="5" height="3" fill="#63201a"/><rect x="655" y="495" width="3" height="1" fill="#c75f52"/><rect x="660" y="496" width="5" height="8" fill="#63201a"/><rect x="661" y="497" width="3" height="6" fill="#c75f52"/><rect x="665" y="504" width="5" height="6" fill="#63201a"/><rect x="666" y="505" width="3" height="4" fill="#c75f52"/><rect x="671" y="503" width="5" height="7" fill="#2a573e"/><rect x="672" y="504" width="3" height="5" fill="#78a88c"/><rect x="677" y="503" width="5" height="3" fill="#63201a"/><rect x="678" y="504" width="3" height="1" fill="#c75f52"/><rect x="683" y="499" width="5" height="7" fill="#2a573e"/><rect x="684" y="500" width="3" height="5" fill="#78a88c"/><rect x="689" y="499" width="5" height="8" fill="#63201a"/><rect x="690" y="500" width="3" height="6" fill="#c75f52"/><rect x="695" y="467" width="5" height="40" fill="#2a573e"/><rect x="696" y="468" width="3" height="38" fill="#78a88c"/><rect x="701" y="430" width="5" height="37" fill="#2a573e"/><rect x="702" y="431" width="3" height="35" fill="#78a88c"/><rect x="707" y="430" width="5" height="6" fill="#63201a"/><rect x="708" y="431" width="3" height="4" fill="#c75f52"/><rect x="712" y="436" width="5" height="56" fill="#63201a"/><rect x="713" y="437" width="3" height="54" fill="#c75f52"/><rect x="718" y="492" width="5" height="38" fill="#63201a"/><rect x="719" y="493" width="3" height="36" fill="#c75f52"/><rect x="724" y="530" width="5" height="12" fill="#63201a"/><rect x="725" y="531" width="3" height="10" fill="#c75f52"/><rect x="730" y="514" width="5" height="28" fill="#2a573e"/><rect x="731" y="515" width="3" height="26" fill="#78a88c"/><rect x="736" y="513" width="5" height="2" fill="#3a1512"/><rect x="742" y="479" width="5" height="36" fill="#2a573e"/><rect x="743" y="480" width="3" height="34" fill="#78a88c"/><rect x="748" y="479" width="5" height="14" fill="#63201a"/><rect x="749" y="480" width="3" height="12" fill="#c75f52"/><rect x="754" y="493" width="5" height="21" fill="#63201a"/><rect x="755" y="494" width="3" height="19" fill="#c75f52"/><rect x="759" y="514" width="5" height="7" fill="#63201a"/><rect x="760" y="515" width="3" height="5" fill="#c75f52"/><rect x="765" y="514" width="5" height="7" fill="#2a573e"/><rect x="766" y="515" width="3" height="5" fill="#78a88c"/><rect x="771" y="509" width="5" height="5" fill="#2a573e"/><rect x="772" y="510" width="3" height="3" fill="#78a88c"/><rect x="777" y="509" width="5" height="5" fill="#63201a"/><rect x="778" y="510" width="3" height="3" fill="#c75f52"/><rect x="783" y="514" width="5" height="26" fill="#63201a"/><rect x="784" y="515" width="3" height="24" fill="#c75f52"/><rect x="789" y="531" width="5" height="9" fill="#2a573e"/><rect x="790" y="532" width="3" height="7" fill="#78a88c"/><rect x="795" y="531" width="5" height="40" fill="#63201a"/><rect x="796" y="532" width="3" height="38" fill="#c75f52"/><rect x="801" y="563" width="5" height="8" fill="#2a573e"/><rect x="802" y="564" width="3" height="6" fill="#78a88c"/><rect x="806" y="535" width="5" height="28" fill="#2a573e"/><rect x="807" y="536" width="3" height="26" fill="#78a88c"/><rect x="812" y="535" width="5" height="15" fill="#63201a"/><rect x="813" y="536" width="3" height="13" fill="#c75f52"/><rect x="818" y="529" width="5" height="21" fill="#2a573e"/><rect x="819" y="530" width="3" height="19" fill="#78a88c"/><rect x="824" y="527" width="5" height="3" fill="#2a573e"/><rect x="825" y="528" width="3" height="1" fill="#78a88c"/><rect x="830" y="519" width="5" height="8" fill="#2a573e"/><rect x="831" y="520" width="3" height="6" fill="#78a88c"/><rect x="836" y="519" width="5" height="23" fill="#63201a"/><rect x="837" y="520" width="3" height="21" fill="#c75f52"/><rect x="842" y="530" width="5" height="12" fill="#2a573e"/><rect x="843" y="531" width="3" height="10" fill="#78a88c"/><rect x="848" y="521" width="5" height="9" fill="#2a573e"/><rect x="849" y="522" width="3" height="7" fill="#78a88c"/><rect x="853" y="519" width="5" height="3" fill="#2a573e"/><rect x="854" y="520" width="3" height="1" fill="#78a88c"/><rect x="859" y="519" width="5" height="14" fill="#63201a"/><rect x="860" y="520" width="3" height="12" fill="#c75f52"/><rect x="865" y="533" width="5" height="4" fill="#63201a"/><rect x="866" y="534" width="3" height="2" fill="#c75f52"/><rect x="871" y="525" width="5" height="12" fill="#2a573e"/><rect x="872" y="526" width="3" height="10" fill="#78a88c"/><rect x="877" y="525" width="5" height="8" fill="#63201a"/><rect x="878" y="526" width="3" height="6" fill="#c75f52"/><rect x="883" y="533" width="5" height="6" fill="#63201a"/><rect x="884" y="534" width="3" height="4" fill="#c75f52"/><rect x="889" y="529" width="5" height="10" fill="#2a573e"/><rect x="890" y="530" width="3" height="8" fill="#78a88c"/><rect x="895" y="515" width="5" height="14" fill="#2a573e"/><rect x="896" y="516" width="3" height="12" fill="#78a88c"/><rect x="900" y="515" width="5" height="14" fill="#63201a"/><rect x="901" y="516" width="3" height="12" fill="#c75f52"/><rect x="906" y="529" width="5" height="38" fill="#63201a"/><rect x="907" y="530" width="3" height="36" fill="#c75f52"/><rect x="912" y="508" width="5" height="59" fill="#2a573e"/><rect x="913" y="509" width="3" height="57" fill="#78a88c"/><rect x="918" y="462" width="5" height="46" fill="#2a573e"/><rect x="919" y="463" width="3" height="44" fill="#78a88c"/><rect x="924" y="456" width="5" height="6" fill="#2a573e"/><rect x="925" y="457" width="3" height="4" fill="#78a88c"/><rect x="930" y="408" width="5" height="48" fill="#2a573e"/><rect x="931" y="409" width="3" height="46" fill="#78a88c"/><rect x="936" y="408" width="5" height="9" fill="#63201a"/><rect x="937" y="409" width="3" height="7" fill="#c75f52"/><rect x="942" y="402" width="5" height="15" fill="#2a573e"/><rect x="943" y="403" width="3" height="13" fill="#78a88c"/><rect x="947" y="402" width="5" height="16" fill="#63201a"/><rect x="948" y="403" width="3" height="14" fill="#c75f52"/><rect x="953" y="417" width="5" height="26" fill="#63201a"/><rect x="954" y="418" width="3" height="24" fill="#c75f52"/><rect x="959" y="423" width="5" height="20" fill="#2a573e"/><rect x="960" y="424" width="3" height="18" fill="#78a88c"/><rect x="965" y="391" width="5" height="32" fill="#2a573e"/><rect x="966" y="392" width="3" height="30" fill="#78a88c"/><rect x="971" y="391" width="5" height="3" fill="#63201a"/><rect x="972" y="392" width="3" height="1" fill="#c75f52"/><rect x="977" y="393" width="5" height="25" fill="#63201a"/><rect x="978" y="394" width="3" height="23" fill="#c75f52"/><rect x="983" y="408" width="5" height="4" fill="#2a573e"/><rect x="984" y="409" width="3" height="2" fill="#78a88c"/><rect x="989" y="401" width="5" height="7" fill="#2a573e"/><rect x="990" y="402" width="3" height="5" fill="#78a88c"/><rect x="994" y="397" width="5" height="4" fill="#2a573e"/><rect x="995" y="398" width="3" height="2" fill="#78a88c"/><rect x="1000" y="393" width="5" height="4" fill="#2a573e"/><rect x="1001" y="394" width="3" height="2" fill="#78a88c"/><rect x="1006" y="393" width="5" height="5" fill="#63201a"/><rect x="1007" y="394" width="3" height="3" fill="#c75f52"/><rect x="1012" y="396" width="5" height="3" fill="#2a573e"/><rect x="1013" y="397" width="3" height="1" fill="#78a88c"/><rect x="1018" y="392" width="5" height="4" fill="#2a573e"/><rect x="1019" y="393" width="3" height="2" fill="#78a88c"/><rect x="1024" y="390" width="5" height="3" fill="#2a573e"/><rect x="1025" y="391" width="3" height="1" fill="#78a88c"/><rect x="1030" y="381" width="5" height="9" fill="#2a573e"/><rect x="1031" y="382" width="3" height="7" fill="#78a88c"/><rect x="1036" y="381" width="5" height="14" fill="#63201a"/><rect x="1037" y="382" width="3" height="12" fill="#c75f52"/><rect x="1041" y="395" width="5" height="37" fill="#63201a"/><rect x="1042" y="396" width="3" height="35" fill="#c75f52"/><rect x="1047" y="402" width="5" height="30" fill="#2a573e"/><rect x="1048" y="403" width="3" height="28" fill="#78a88c"/><rect x="1053" y="369" width="5" height="33" fill="#2a573e"/><rect x="1054" y="370" width="3" height="31" fill="#78a88c"/><rect x="1059" y="351" width="5" height="19" fill="#2a573e"/><rect x="1060" y="352" width="3" height="17" fill="#78a88c"/><rect x="1065" y="351" width="5" height="5" fill="#63201a"/><rect x="1066" y="352" width="3" height="3" fill="#c75f52"/><rect x="1071" y="356" width="5" height="101" fill="#63201a"/><rect x="1072" y="357" width="3" height="99" fill="#c75f52"/><rect x="1077" y="455" width="5" height="3" fill="#2a573e"/><rect x="1078" y="456" width="3" height="1" fill="#78a88c"/><rect x="1083" y="455" width="5" height="103" fill="#63201a"/><rect x="1084" y="456" width="3" height="101" fill="#c75f52"/><rect x="1088" y="542" width="5" height="16" fill="#2a573e"/><rect x="1089" y="543" width="3" height="14" fill="#78a88c"/><rect x="1094" y="481" width="5" height="61" fill="#2a573e"/><rect x="1095" y="482" width="3" height="59" fill="#78a88c"/><rect x="1100" y="455" width="5" height="26" fill="#2a573e"/><rect x="1101" y="456" width="3" height="24" fill="#78a88c"/><rect x="1106" y="455" width="5" height="27" fill="#63201a"/><rect x="1107" y="456" width="3" height="25" fill="#c75f52"/><rect x="1112" y="476" width="5" height="6" fill="#2a573e"/><rect x="1113" y="477" width="3" height="4" fill="#78a88c"/><rect x="1118" y="468" width="5" height="8" fill="#2a573e"/><rect x="1119" y="469" width="3" height="6" fill="#78a88c"/><rect x="1124" y="468" width="5" height="40" fill="#63201a"/><rect x="1125" y="469" width="3" height="38" fill="#c75f52"/><rect x="1130" y="472" width="5" height="36" fill="#2a573e"/><rect x="1131" y="473" width="3" height="34" fill="#78a88c"/><rect x="1135" y="472" width="5" height="3" fill="#63201a"/><rect x="1136" y="473" width="3" height="1" fill="#c75f52"/><rect x="1141" y="447" width="5" height="27" fill="#2a573e"/><rect x="1142" y="448" width="3" height="25" fill="#78a88c"/><rect x="1147" y="447" width="5" height="5" fill="#63201a"/><rect x="1148" y="448" width="3" height="3" fill="#c75f52"/><rect x="1153" y="452" width="5" height="12" fill="#63201a"/><rect x="1154" y="453" width="3" height="10" fill="#c75f52"/><rect x="1159" y="464" width="5" height="15" fill="#63201a"/><rect x="1160" y="465" width="3" height="13" fill="#c75f52"/><rect x="1165" y="464" width="5" height="15" fill="#2a573e"/><rect x="1166" y="465" width="3" height="13" fill="#78a88c"/><rect x="1171" y="465" width="5" height="3" fill="#63201a"/><rect x="1172" y="466" width="3" height="1" fill="#c75f52"/></g>
<rect x="3" y="22" width="1256" height="1" fill="#f23645" fill-opacity="0.11"/>
<rect x="3" y="23" width="1256" height="1" fill="#96545a"/>
<rect x="3" y="60" width="1256" height="1" fill="#f23645" fill-opacity="0.11"/>
<rect x="3" y="61" width="1256" height="1" fill="#96545a"/>
<rect x="3" y="154" width="1256" height="1" fill="#f23645" fill-opacity="0.11"/>
<rect x="3" y="155" width="1256" height="1" fill="#96545a"/>
<rect x="3" y="184" width="1256" height="1" fill="#f23645" fill-opacity="0.11"/>
<rect x="3" y="185" width="1256" height="1" fill="#96545a"/>
<rect x="3" y="322" width="1256" height="1" fill="#f23645" fill-opacity="0.11"/>
<rect x="3" y="323" width="1256" height="1" fill="#96545a"/>
<rect x="3" y="371" width="1256" height="1" fill="#f23645" fill-opacity="0.11"/>
<rect x="3" y="372" width="1256" height="1" fill="#96545a"/>
<rect x="3" y="433" width="1256" height="1" fill="#f23645" fill-opacity="0.11"/>
<rect x="3" y="434" width="1256" height="1" fill="#96545a"/>
<rect x="3" y="582" width="1256" height="1" fill="#2962ff" fill-opacity="0.10"/>
<rect x="3" y="581" width="1256" height="1" fill="#42607f"/>
<rect x="3" y="597" width="1256" height="1" fill="#2962ff" fill-opacity="0.10"/>
<rect x="3" y="596" width="1256" height="1" fill="#42607f"/>
<rect x="1259" y="4" width="1" height="713" fill="#3a3a3e"/>
<rect x="3" y="683" width="1318" height="1" fill="#3a3a3e"/>
</svg>
<div class="abs" style="left:0;top:0;width:3px;height:717px;background:#dfe1ea;"></div>
<div class="abs" style="left:0;top:0;width:1321px;height:4px;background:#dfe1ea;"></div>
<div class="abs" style="left:3px;top:4px;width:4px;height:4px;background:radial-gradient(circle at 4px 4px, rgba(255,255,255,0) 3.5px, #dfe1ea 4px);"></div>
<div class="abs" style="left:8px;top:10px;width:376px;height:28px;background:rgba(255,255,255,0.52);"></div>
<div class="abs" style="left:461px;top:12px;width:445px;height:24px;background:rgba(255,255,255,0.52);"></div>
<div class="abs" style="left:8px;top:42px;width:213.5px;height:50px;background:rgba(255,255,255,0.52);"></div>
<svg class="abs" style="left:12px;top:8px" width="30" height="30" viewBox="0 0 30 30">
<defs><clipPath id="cu"><circle cx="17.5" cy="12" r="6.9"/></clipPath><clipPath id="cg"><circle cx="10.1" cy="19.8" r="7.1"/></clipPath></defs>
<g clip-path="url(#cu)"><rect x="10" y="5" width="15" height="15" fill="#fff"/>
<g fill="#d9534f"><rect x="10" y="5.1" width="15" height="1.1"/><rect x="10" y="7.3" width="15" height="1.1"/><rect x="10" y="9.5" width="15" height="1.1"/><rect x="10" y="11.7" width="15" height="1.1"/><rect x="10" y="13.9" width="15" height="1.1"/><rect x="10" y="16.1" width="15" height="1.1"/><rect x="10" y="18.3" width="15" height="1.1"/></g>
<rect x="10" y="5" width="8.3" height="8.8" fill="#4f9bd6"/>
<path d="M11.5 7 H18 M11.5 9.2 H18 M11.5 11.4 H18 M13.2 5.4 V13.4 M15.2 5.4 V13.4 M17.1 5.4 V13.4" stroke="#d8ecfa" stroke-width="0.7" stroke-dasharray="0.9 0.9"/></g>
<circle cx="10.1" cy="19.8" r="8.3" fill="#fff"/>
<g clip-path="url(#cg)"><rect x="2" y="12" width="17" height="16" fill="#27306a"/>
<path d="M2.6 12.3 L17.6 27.3 M17.6 12.3 L2.6 27.3" stroke="#fff" stroke-width="2.2"/>
<path d="M2.6 12.3 L17.6 27.3 M17.6 12.3 L2.6 27.3" stroke="#dc7b7b" stroke-width="0.6"/>
<path d="M10.1 12 V28 M2 19.8 H19" stroke="#fff" stroke-width="4"/>
<path d="M10.1 12 V28 M2 19.8 H19" stroke="#dd8482" stroke-width="2.2"/></g>
</svg>
<div class="abs" id="title" style="left:41.40px;top:14.65px;font-size:20.14px;line-height:20.14px;transform:scaleX(0.9576);transform-origin:0 0;color:#4a4a4a;">British Pound / U.S. Dollar <b>&#183;</b> 1h <b>&#183;</b> FXCM</div>
<div class="abs" style="left:396.5px;top:13px;width:24.5px;height:21.6px;background:rgba(31,157,132,0.16);border-radius:10.8px 0 0 10.8px;"></div>
<div class="abs" style="left:421px;top:13px;width:24.5px;height:21.6px;background:rgba(233,30,99,0.15);border-radius:0 10.8px 10.8px 0;"></div>
<div class="abs" style="left:405.1px;top:19.1px;width:9.8px;height:9.8px;border-radius:5px;background:#1f9d84;"></div>
<div class="abs" id="approx" style="left:424px;top:12.2px;width:16px;text-align:center;font-size:18.5px;line-height:24px;color:#b3245c;font-weight:bold;">&#8776;</div>
<div class="abs" id="ohlc" style="left:466.50px;top:16.47px;font-size:15.51px;line-height:15.51px;transform:scaleX(1.0441);transform-origin:0 0;color:#4c2c2e;"><span style="color:#5c5c5c">O</span>1.25507 <span style="color:#5c5c5c">H</span>1.25511 <span style="color:#5c5c5c">L</span>1.25415 <span style="color:#5c5c5c">C</span>1.25493 &#8722;0.00014 (&#8722;0.01%)</div>
<div class="btn" style="left:13px;border:1.3px solid #cf6b72;"></div>
<div class="btn" style="left:134px;border:1.3px solid #5f79bd;"></div>
<div class="abs" style="left:28.20px;top:50.55px;font-size:14.35px;line-height:14.35px;transform:scaleX(1.0978);transform-origin:0 0;color:#c94b55;-webkit-text-stroke:0.5px currentColor;">1.2549</div>
<div class="abs" style="left:77.40px;top:48.85px;font-size:13.77px;line-height:13.77px;transform:scaleX(0.7329);transform-origin:0 0;color:#c94b55;">2</div>
<div class="abs" style="left:40.70px;top:68.47px;font-size:13.62px;line-height:13.62px;transform:scaleX(0.8496);transform-origin:0 0;color:#c94b55;">SELL</div>
<div class="abs" style="left:148.70px;top:50.55px;font-size:14.35px;line-height:14.35px;transform:scaleX(1.0978);transform-origin:0 0;color:#3f5fbb;-webkit-text-stroke:0.5px currentColor;">1.2550</div>
<div class="abs" style="left:197.90px;top:48.85px;font-size:13.77px;line-height:13.77px;transform:scaleX(0.7329);transform-origin:0 0;color:#3f5fbb;">2</div>
<div class="abs" style="left:164.00px;top:68.47px;font-size:13.62px;line-height:13.62px;transform:scaleX(0.8573);transform-origin:0 0;color:#3f5fbb;">BUY</div>
<div class="abs" style="left:108.30px;top:58.84px;font-size:11.88px;line-height:11.88px;transform:scaleX(0.9625);transform-origin:0 0;color:#111;">1.0</div>
<div class="abs" style="left:1271.20px;top:98.67px;font-size:13.62px;line-height:13.62px;transform:scaleX(0.9544);transform-origin:0 0;color:#555;">1.27000</div>
<div class="abs" style="left:1271.20px;top:146.47px;font-size:13.62px;line-height:13.62px;transform:scaleX(0.9544);transform-origin:0 0;color:#555;">1.26800</div>
<div class="abs" style="left:1271.20px;top:194.27px;font-size:13.62px;line-height:13.62px;transform:scaleX(0.9544);transform-origin:0 0;color:#555;">1.26600</div>
<div class="abs" style="left:1271.20px;top:242.17px;font-size:13.62px;line-height:13.62px;transform:scaleX(0.9544);transform-origin:0 0;color:#555;">1.26400</div>
<div class="abs" style="left:1271.20px;top:290.07px;font-size:13.62px;line-height:13.62px;transform:scaleX(0.9544);transform-origin:0 0;color:#555;">1.26200</div>
<div class="abs" style="left:1271.20px;top:338.17px;font-size:13.62px;line-height:13.62px;transform:scaleX(0.9544);transform-origin:0 0;color:#555;">1.26000</div>
<div class="abs" style="left:1271.20px;top:386.27px;font-size:13.62px;line-height:13.62px;transform:scaleX(0.9544);transform-origin:0 0;color:#555;">1.25800</div>
<div class="abs" style="left:1271.20px;top:434.47px;font-size:13.62px;line-height:13.62px;transform:scaleX(0.9544);transform-origin:0 0;color:#555;">1.25600</div>
<div class="abs" style="left:1271.20px;top:482.77px;font-size:13.62px;line-height:13.62px;transform:scaleX(0.9544);transform-origin:0 0;color:#555;">1.25400</div>
<div class="abs" style="left:1271.20px;top:518.97px;font-size:13.62px;line-height:13.62px;transform:scaleX(0.9544);transform-origin:0 0;color:#555;">1.25250</div>
<div class="abs" style="left:1271.20px;top:555.27px;font-size:13.62px;line-height:13.62px;transform:scaleX(0.9544);transform-origin:0 0;color:#555;">1.25100</div>
<div class="abs" style="left:1271.20px;top:591.67px;font-size:13.62px;line-height:13.62px;transform:scaleX(0.9544);transform-origin:0 0;color:#555;">1.24950</div>
<div class="abs" style="left:1271.20px;top:630.47px;font-size:13.62px;line-height:13.62px;transform:scaleX(0.9544);transform-origin:0 0;color:#555;">1.24790</div>
<div class="abs" style="left:1271.20px;top:667.27px;font-size:13.62px;line-height:13.62px;transform:scaleX(0.9544);transform-origin:0 0;color:#555;">1.24640</div>
<div class="tag" style="top:52.0px;background:#f03446"></div>
<div class="abs" style="left:1272.30px;top:54.88px;font-size:14.20px;line-height:14.20px;transform:scaleX(0.9037);transform-origin:0 0;color:#fff;font-weight:bold;">1.27186</div>
<div class="tag" style="top:146.0px;background:#f03446"></div>
<div class="abs" style="left:1272.30px;top:148.93px;font-size:14.20px;line-height:14.20px;transform:scaleX(0.9037);transform-origin:0 0;color:#fff;font-weight:bold;">1.26792</div>
<div class="tag" style="top:176.1px;background:#f03446"></div>
<div class="abs" style="left:1272.30px;top:178.98px;font-size:14.20px;line-height:14.20px;transform:scaleX(0.9037);transform-origin:0 0;color:#fff;font-weight:bold;">1.26666</div>
<div class="tag" style="top:313.8px;background:#f03446"></div>
<div class="abs" style="left:1272.30px;top:316.68px;font-size:14.20px;line-height:14.20px;transform:scaleX(0.9037);transform-origin:0 0;color:#fff;font-weight:bold;">1.26092</div>
<div class="tag" style="top:363.1px;background:#f03446"></div>
<div class="abs" style="left:1272.30px;top:365.98px;font-size:14.20px;line-height:14.20px;transform:scaleX(0.9037);transform-origin:0 0;color:#fff;font-weight:bold;">1.25887</div>
<div class="tag" style="top:424.9px;background:#f03446"></div>
<div class="abs" style="left:1272.30px;top:427.78px;font-size:14.20px;line-height:14.20px;transform:scaleX(0.9037);transform-origin:0 0;color:#fff;font-weight:bold;">1.25628</div>
<div class="tag" style="top:572.0px;background:#2b60ea"></div>
<div class="abs" style="left:1272.30px;top:574.88px;font-size:14.20px;line-height:14.20px;transform:scaleX(0.9037);transform-origin:0 0;color:#fff;font-weight:bold;">1.25020</div>
<div class="tag" style="top:591.9px;background:#2b60ea"></div>
<div class="abs" style="left:1272.30px;top:594.78px;font-size:14.20px;line-height:14.20px;transform:scaleX(0.9037);transform-origin:0 0;color:#fff;font-weight:bold;">1.24959</div>
<div class="abs" style="left:1201px;top:458.3px;width:59px;height:18.3px;background:#d45242;border-radius:3px 0 0 3px;"></div>
<div class="abs" style="left:1260px;top:458.3px;width:61px;height:34.2px;background:#d45242;"></div>
<div class="abs" style="left:1205.50px;top:461.56px;font-size:13.04px;line-height:13.04px;transform:scaleX(0.8688);transform-origin:0 0;color:#fff;font-weight:bold;">GBPUSD</div>
<div class="abs" style="left:1272.30px;top:461.90px;font-size:12.75px;line-height:12.75px;transform:scaleX(1.0064);transform-origin:0 0;color:#fff;font-weight:bold;">1.25493</div>
<div class="abs" style="left:1271.30px;top:477.60px;font-size:12.75px;line-height:12.75px;transform:scaleX(1.0548);transform-origin:0 0;color:#ffd9d2;">04:45</div>
<div class="abs" style="left:1264px;top:9px;width:70px;height:31px;box-sizing:border-box;border:1px solid #e6e6e6;border-radius:5px;background:#fff;box-shadow:0 1px 1px rgba(0,0,0,0.06);"></div>
<div class="abs" style="left:1269.40px;top:15.36px;font-size:17.54px;line-height:17.54px;transform:scaleX(0.8162);transform-origin:0 0;color:#111;-webkit-text-stroke:0.25px #111;">USD</div>
<svg class="abs" style="left:1309px;top:20px" width="12" height="10" viewBox="0 0 12 10"><path d="M3.2 3.8 L6.6 6.8 L10 3.8" fill="none" stroke="#222" stroke-width="1.6"/></svg>
<div class="abs" style="left:55.60px;top:693.05px;font-size:13.77px;line-height:13.77px;transform:scaleX(0.9030);transform-origin:0 0;color:#555;">18</div>
<div class="abs" style="left:196.60px;top:693.05px;font-size:13.77px;line-height:13.77px;transform:scaleX(0.9030);transform-origin:0 0;color:#555;">19</div>
<div class="abs" style="left:337.60px;top:693.05px;font-size:13.77px;line-height:13.77px;transform:scaleX(0.9030);transform-origin:0 0;color:#555;">20</div>
<div class="abs" style="left:478.10px;top:693.15px;font-size:13.77px;line-height:13.77px;transform:scaleX(0.9619);transform-origin:0 0;color:#4a4a4a;font-weight:bold;">23</div>
<div class="abs" style="left:619.60px;top:693.05px;font-size:13.77px;line-height:13.77px;transform:scaleX(0.9030);transform-origin:0 0;color:#555;">24</div>
<div class="abs" style="left:737.60px;top:693.05px;font-size:13.77px;line-height:13.77px;transform:scaleX(0.9030);transform-origin:0 0;color:#555;">26</div>
<div class="abs" style="left:848.60px;top:693.05px;font-size:13.77px;line-height:13.77px;transform:scaleX(0.9030);transform-origin:0 0;color:#555;">27</div>
<div class="abs" style="left:989.10px;top:693.15px;font-size:13.77px;line-height:13.77px;transform:scaleX(0.9619);transform-origin:0 0;color:#4a4a4a;font-weight:bold;">30</div>
<div class="abs" style="left:1130.60px;top:693.05px;font-size:13.77px;line-height:13.77px;transform:scaleX(0.9030);transform-origin:0 0;color:#555;">31</div>
<div class="abs" style="left:1200px;top:688px;width:59px;height:24px;overflow:hidden;"><div class="abs" style="left:27.30px;top:5.05px;font-size:13.77px;line-height:13.77px;transform:scaleX(0.9916);transform-origin:0 0;color:#555;">18:00</div></div>
<svg class="abs" style="left:14px;top:643px" width="46" height="27" viewBox="0 0 46 27">
<g fill="#131722" stroke="#fff" stroke-width="1.2" paint-order="stroke">
<path d="M4.1 3.8 H18.9 V22.2 H11.6 V10.6 H4.1 Z"/>
<circle cx="25.3" cy="7.4" r="3.8"/>
<path d="M32.5 3.8 H41 L33.9 22.2 H25.3 Z"/>
</g></svg>
<div class="abs" id="tv" style="left:64.30px;top:642.83px;font-size:26.67px;line-height:26.67px;transform:scaleX(0.9594);transform-origin:0 0;color:#131722;font-weight:bold;text-shadow:0 0 2px #fff,0 0 2px #fff;">TradingView</div>
<svg class="abs" style="left:1158px;top:650px" width="32" height="32" viewBox="0 0 32 32">
<circle cx="15.7" cy="16.4" r="12.5" fill="#fff" stroke="#78298f" stroke-width="1.4"/>
<path d="M18.9 10 L10.8 17.2 L15.6 17.2 L11.6 23 L20.3 15.4 L15.6 15.4 Z" fill="#78298f"/>
<circle cx="24.1" cy="7.8" r="4.6" fill="#fff"/>
<circle cx="24.1" cy="7.8" r="2.9" fill="#d8404f"/>
</svg>
<svg class="abs" style="left:1283px;top:690px" width="24" height="22" viewBox="0 0 24 22">
<path d="M2.7 10.9 L6.6 3.4 L16.5 3.4 L20.3 10.9 L16.5 18.4 L6.6 18.4 Z" fill="none" stroke="#111" stroke-width="1.4" stroke-linejoin="round"/>
<circle cx="11.4" cy="10.9" r="2.35" fill="none" stroke="#111" stroke-width="1.3"/>
</svg>
</body></html>
